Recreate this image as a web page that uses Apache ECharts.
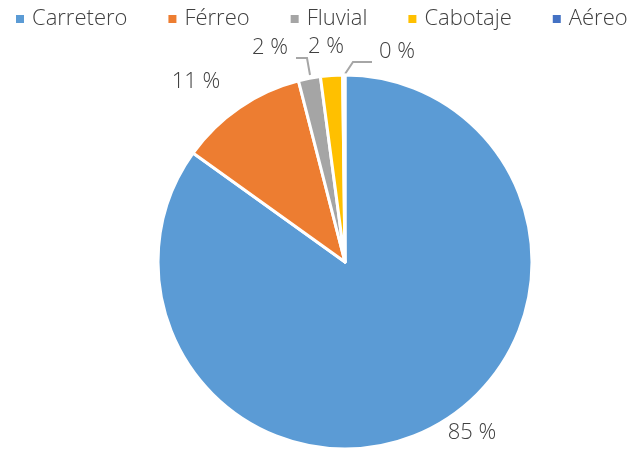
<!DOCTYPE html>
<html>
<head>
    <meta charset="utf-8" />
    <title>Reparto modal</title>
    <script src="https://cdn.jsdelivr.net/npm/echarts@6/dist/echarts.min.js"></script>
    <style>
        html, body { margin: 0; padding: 0; background: #fff; }
        #chart { width: 630px; height: 449px; }
    </style>
</head>
<body>
    <div id="chart"></div>
    <script>
        // modos de transporte y su participacion (%)
        var modos = ['Carretero', 'Férreo', 'Fluvial', 'Cabotaje', 'Aéreo'];
        var valores = [84.9, 11.1, 1.9, 1.9, 0.2];
        var colores = ['#5B9BD5', '#ED7D31', '#A5A5A5', '#FFC000', '#4472C4'];

        // ubicacion de las etiquetas (estilo "ajuste perfecto" de Excel)
        var posEtiquetas = [[472, 433], [196, 82], [270, 48], [326, 47], [397, 52]];
        var guias = [null, null, [[310, 75], [307, 58], [296, 58]], null, [[345, 74], [353, 62], [372, 62]]];

        var fuente = '"Open Sans", "Liberation Sans", sans-serif';

        var datos = [];
        for (var i = 0; i < modos.length; i++) {
            datos.push({
                name: modos[i],
                value: valores[i],
                itemStyle: { color: colores[i] },
                labelLine: { show: guias[i] != null }
            });
        }

        var myChart = echarts.init(document.getElementById('chart'));
        myChart.setOption({
            animation: false,
            legend: {
                top: 8,
                left: 14,
                width: 616,
                padding: 0,
                icon: 'rect',
                itemWidth: 10,
                itemHeight: 10,
                itemGap: 39,
                textStyle: { fontSize: 22, color: '#404040', fontFamily: fuente, fontWeight: 300, padding: [0, 0, 0, 2] },
                data: modos
            },
            series: [{
                type: 'pie',
                center: [345, 262],
                radius: 187,
                startAngle: 90,
                clockwise: true,
                itemStyle: { borderColor: '#fff', borderWidth: 3 },
                label: {
                    show: true,
                    position: 'outside',
                    formatter: function (p) { return Math.round(p.value) + ' %'; },
                    fontSize: 22,
                    color: '#404040',
                    fontFamily: fuente,
                    fontWeight: 300
                },
                labelLine: { show: true, lineStyle: { color: '#A6A6A6', width: 2 } },
                labelLayout: function (p) {
                    var k = p.dataIndex;
                    var r = {
                        x: posEtiquetas[k][0],
                        y: posEtiquetas[k][1],
                        align: 'center',
                        verticalAlign: 'middle'
                    };
                    if (guias[k]) r.labelLinePoints = guias[k];
                    return r;
                },
                data: datos
            }]
        });
    </script>
</body>
</html>
